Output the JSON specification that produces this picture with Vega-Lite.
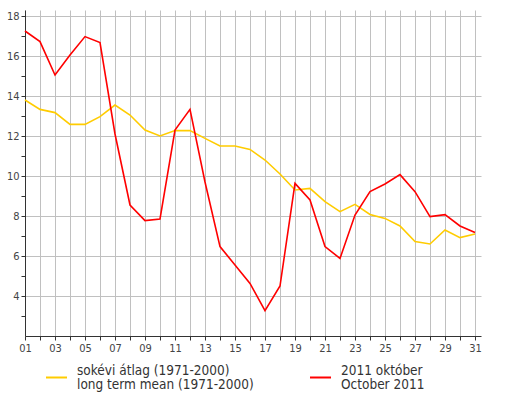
{
  "$schema": "https://vega.github.io/schema/vega-lite/v6.json",
  "autosize": {"type": "none"},
  "padding": {"left": 25, "top": 10, "right": 24, "bottom": 60},
  "width": 456,
  "height": 326,
  "background": "white",
  "config": {
    "view": {"stroke": null},
    "font": "DejaVu Sans Condensed",
    "axis": {"labelFont": "DejaVu Sans Condensed", "labelFontSize": 11, "labelColor": "#444", "domainColor": "#333", "tickColor": "#333", "gridColor": "#c0c0c0", "gridOpacity": 1, "gridWidth": 1, "tickSize": 4, "labelPadding": 2, "title": null}
  },
  "data": {"values": [
    {"day": 1, "value": 13.8, "series": "avg"},
    {"day": 2, "value": 13.33, "series": "avg"},
    {"day": 3, "value": 13.17, "series": "avg"},
    {"day": 4, "value": 12.58, "series": "avg"},
    {"day": 5, "value": 12.58, "series": "avg"},
    {"day": 6, "value": 12.97, "series": "avg"},
    {"day": 7, "value": 13.55, "series": "avg"},
    {"day": 8, "value": 13.05, "series": "avg"},
    {"day": 9, "value": 12.3, "series": "avg"},
    {"day": 10, "value": 12.0, "series": "avg"},
    {"day": 11, "value": 12.27, "series": "avg"},
    {"day": 12, "value": 12.27, "series": "avg"},
    {"day": 13, "value": 11.88, "series": "avg"},
    {"day": 14, "value": 11.5, "series": "avg"},
    {"day": 15, "value": 11.5, "series": "avg"},
    {"day": 16, "value": 11.33, "series": "avg"},
    {"day": 17, "value": 10.8, "series": "avg"},
    {"day": 18, "value": 10.1, "series": "avg"},
    {"day": 19, "value": 9.3, "series": "avg"},
    {"day": 20, "value": 9.38, "series": "avg"},
    {"day": 21, "value": 8.72, "series": "avg"},
    {"day": 22, "value": 8.22, "series": "avg"},
    {"day": 23, "value": 8.58, "series": "avg"},
    {"day": 24, "value": 8.08, "series": "avg"},
    {"day": 25, "value": 7.88, "series": "avg"},
    {"day": 26, "value": 7.5, "series": "avg"},
    {"day": 27, "value": 6.72, "series": "avg"},
    {"day": 28, "value": 6.6, "series": "avg"},
    {"day": 29, "value": 7.3, "series": "avg"},
    {"day": 30, "value": 6.92, "series": "avg"},
    {"day": 31, "value": 7.1, "series": "avg"},
    {"day": 1, "value": 17.25, "series": "2011"},
    {"day": 2, "value": 16.72, "series": "2011"},
    {"day": 3, "value": 15.05, "series": "2011"},
    {"day": 4, "value": 16.05, "series": "2011"},
    {"day": 5, "value": 16.97, "series": "2011"},
    {"day": 6, "value": 16.67, "series": "2011"},
    {"day": 7, "value": 12.1, "series": "2011"},
    {"day": 8, "value": 8.55, "series": "2011"},
    {"day": 9, "value": 7.77, "series": "2011"},
    {"day": 10, "value": 7.85, "series": "2011"},
    {"day": 11, "value": 12.3, "series": "2011"},
    {"day": 12, "value": 13.33, "series": "2011"},
    {"day": 13, "value": 9.7, "series": "2011"},
    {"day": 14, "value": 6.47, "series": "2011"},
    {"day": 15, "value": 5.55, "series": "2011"},
    {"day": 16, "value": 4.63, "series": "2011"},
    {"day": 17, "value": 3.27, "series": "2011"},
    {"day": 18, "value": 4.5, "series": "2011"},
    {"day": 19, "value": 9.63, "series": "2011"},
    {"day": 20, "value": 8.8, "series": "2011"},
    {"day": 21, "value": 6.47, "series": "2011"},
    {"day": 22, "value": 5.88, "series": "2011"},
    {"day": 23, "value": 8.05, "series": "2011"},
    {"day": 24, "value": 9.22, "series": "2011"},
    {"day": 25, "value": 9.6, "series": "2011"},
    {"day": 26, "value": 10.07, "series": "2011"},
    {"day": 27, "value": 9.22, "series": "2011"},
    {"day": 28, "value": 7.97, "series": "2011"},
    {"day": 29, "value": 8.07, "series": "2011"},
    {"day": 30, "value": 7.5, "series": "2011"},
    {"day": 31, "value": 7.17, "series": "2011"}
  ]},
  "mark": {"type": "line", "strokeWidth": 1.6, "interpolate": "linear"},
  "encoding": {
    "x": {
      "field": "day", "type": "quantitative",
      "scale": {"domain": [1, 31.4], "nice": false, "zero": false},
      "axis": {
        "values": [1,2,3,4,5,6,7,8,9,10,11,12,13,14,15,16,17,18,19,20,21,22,23,24,25,26,27,28,29,30,31],
        "labelExpr": "datum.value % 2 == 1 ? (datum.value < 10 ? '0' + datum.value : '' + datum.value) : ''",
        "grid": true,
        "labelFlush": false,
        "labelOverlap": false
      }
    },
    "y": {
      "field": "value", "type": "quantitative",
      "scale": {"domain": [2, 18.3], "nice": false, "zero": false},
      "axis": {
        "values": [3,4,5,6,7,8,9,10,11,12,13,14,15,16,17,18],
        "labelExpr": "datum.value % 2 == 0 ? datum.label : ''",
        "grid": true,
        "gridOpacity": {"condition": {"test": "datum.value % 2 == 0", "value": 1}, "value": 0},
        "labelOverlap": false
      }
    },
    "color": {
      "field": "series", "type": "nominal",
      "sort": ["avg", "2011"],
      "scale": {"domain": ["avg", "2011"], "range": ["#ffcc00", "#ff0000"]},
      "legend": {
        "orient": "none",
        "legendX": 20,
        "legendY": 356,
        "direction": "horizontal",
        "title": null,
        "symbolType": "stroke",
        "symbolSize": 441,
        "symbolStrokeWidth": 2,
        "labelFont": "DejaVu Sans Condensed",
        "labelFontSize": 13.5,
        "labelColor": "#333",
        "labelBaseline": "line-bottom",
        "labelLimit": 300,
        "labelOffset": 9,
        "columnPadding": 52,
        "labelExpr": "datum.label == 'avg' ? ['sokévi átlag (1971-2000)', 'long term mean (1971-2000)'] : ['2011 október', 'October 2011']",
        "encode": {"labels": {"update": {"lineHeight": {"value": 14}}}}
      }
    }
  }
}
